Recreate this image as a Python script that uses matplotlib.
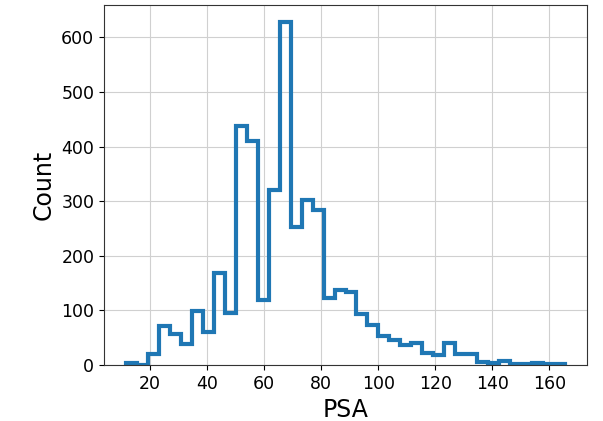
import matplotlib
matplotlib.use("Agg")
import matplotlib.pyplot as plt
import numpy as np

# histogram of PSA values (40 bins)
bin_lo, bin_hi, n_bins = 11.5, 165.5, 40
counts = [3, 0, 21, 71, 56, 38, 99, 61, 169, 96,
          437, 410, 120, 321, 628, 253, 303, 284, 122, 138,
          134, 94, 73, 53, 46, 37, 40, 22, 19, 41,
          21, 21, 6, 3, 8, 2, 2, 3, 1, 2]

edges = np.linspace(bin_lo, bin_hi, n_bins + 1)

fig = plt.figure(figsize=(6.03, 4.21), dpi=100)
ax = fig.add_axes([0.1725, 0.133, 0.801, 0.855])
ax.hist(edges[:-1], bins=edges, weights=counts, histtype="step",
        linewidth=3, color="#1f77b4")
ax.grid(True, color="#d0d0d0", linewidth=0.8)
ax.set_axisbelow(True)
ax.set_xlabel("PSA", fontsize=17)
ax.set_ylabel("Count", fontsize=17)
ax.tick_params(labelsize=12.5)
for s in ax.spines.values():
    s.set_color("#333333")

fig.savefig("out.png", dpi=100)
